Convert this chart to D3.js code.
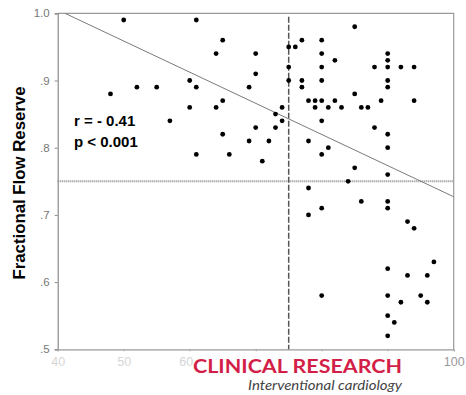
<!DOCTYPE html>
<html><head><meta charset="utf-8">
<script src="https://cdn.jsdelivr.net/npm/d3@7"></script>
<style>html,body{margin:0;padding:0;background:#fff;}svg{display:block;}</style>
</head><body>
<svg id="c" width="466" height="395"></svg>
<script>
// Percent diameter stenosis (x) vs Fractional Flow Reserve (y)
const stenosis = [48,50,52,55,57,60,60,61,61,61,64,64,65,65,65,66,69,69,70,70,70,71,72,73,73,74,74,
  75,75,75,76,77,77,77,78,78,78,78,79,79,80,80,80,80,80,80,80,80,80,81,81,82,82,83,84,85,85,85,
  86,86,87,88,88,89,90,90,90,90,90,90,90,90,90,90,90,90,90,90,91,92,92,93,93,94,94,94,95,96,96,97];
const ffr = [0.88,0.99,0.89,0.89,0.84,0.90,0.86,0.99,0.89,0.79,0.94,0.86,0.96,0.87,0.82,0.79,0.89,0.81,0.94,0.91,0.83,0.78,0.81,0.85,0.83,0.86,0.84,
  0.95,0.92,0.90,0.95,0.96,0.90,0.89,0.87,0.81,0.74,0.70,0.87,0.86,0.96,0.94,0.92,0.90,0.87,0.84,0.79,0.71,0.58,0.86,0.80,0.93,0.87,0.86,0.75,0.98,0.88,0.77,
  0.86,0.72,0.86,0.92,0.83,0.87,0.94,0.93,0.92,0.90,0.89,0.82,0.80,0.76,0.72,0.71,0.62,0.58,0.55,0.52,0.54,0.92,0.57,0.69,0.61,0.92,0.87,0.68,0.58,0.61,0.57,0.63];
const xTicks = [40,50,60,70,80,90,100];
const xTickLabels = ["40","50","60","","","","100"]; // 70–90 hidden behind the logo in the source
const yTicks = [0.5,0.6,0.7,0.8,0.9,1.0];
const yTickLabels = [".5",".6",".7",".8",".9","1.0"];
const stenosisCutoff = 75;
const ffrCutoff = 0.75;
const regIntercept = 1.1905, regSlope = -0.004635;
const statsText = ["r = - 0.41", "p < 0.001"];
const yTitle = "Fractional Flow Reserve";

const svg = d3.select("#c");
const x = d3.scaleLinear().domain([40,100]).range([57.7,453.7]);
const y = d3.scaleLinear().domain([0.5,1.0]).range([349.3,13.3]);

// frame (top and right)
svg.append("path").attr("d", `M${x(40)},${y(1)}H${x(100)}V${y(0.5)}`)
  .attr("fill","none").attr("stroke","#9a9a9a").attr("stroke-width",1.2);

// y axis
const ya = svg.append("g").attr("transform",`translate(${x(40)},0)`)
  .call(d3.axisLeft(y).tickValues(yTicks).tickSize(3).tickPadding(5)
    .tickFormat((d,i)=>yTickLabels[i]));
ya.select(".domain").attr("stroke","#8a8a8a").attr("stroke-width",1.2);
ya.selectAll(".tick line").attr("stroke","#888");
ya.selectAll(".tick text").attr("fill","#777").attr("font-family","Liberation Sans, Arial").attr("font-size",11.5);

// x axis
const xa = svg.append("g").attr("transform",`translate(0,${y(0.5)})`)
  .call(d3.axisBottom(x).tickValues(xTicks).tickSize(2).tickPadding(6)
    .tickFormat((d,i)=>xTickLabels[i]));
xa.select(".domain").attr("stroke","#9a9a9a").attr("stroke-width",1.2);
xa.selectAll(".tick line").attr("stroke","#aaa");
xa.selectAll(".tick text").attr("fill",d=>d===100?"#999":"#d6d6d6")
  .attr("font-family","Liberation Sans, Arial").attr("font-size",12.5);
xa.selectAll(".tick text").filter(d=>d===60).attr("dx",-4);

// cutoff lines
svg.append("line").attr("x1",x(40)).attr("x2",x(100)).attr("y1",y(ffrCutoff)).attr("y2",y(ffrCutoff))
  .attr("stroke","#8a8a8a").attr("stroke-width",2).attr("stroke-dasharray","1,1");
svg.append("line").attr("x1",x(stenosisCutoff)).attr("x2",x(stenosisCutoff)).attr("y1",y(0.995)).attr("y2",y(0.5))
  .attr("stroke","#555").attr("stroke-width",1.5).attr("stroke-dasharray","6,2");

// regression line clipped to plot
const x0 = (1.0 - regIntercept)/regSlope;
svg.append("line").attr("x1",x(x0)).attr("y1",y(regIntercept+regSlope*x0))
  .attr("x2",x(100)).attr("y2",y(regIntercept+regSlope*100))
  .attr("stroke","#7a7a7a").attr("stroke-width",1);

// points
svg.append("g").selectAll("circle").data(stenosis.map((s,i)=>[s,ffr[i]])).join("circle")
  .attr("cx",d=>x(d[0])).attr("cy",d=>y(d[1])).attr("r",2.4).attr("fill","#000");

// stats
svg.append("text").attr("x",74).attr("y",126).text(statsText[0])
  .attr("font-family","Liberation Sans, Arial").attr("font-weight","bold").attr("font-size",15).attr("fill","#000");
svg.append("text").attr("x",74).attr("y",147).text(statsText[1])
  .attr("font-family","Liberation Sans, Arial").attr("font-weight","bold").attr("font-size",15).attr("fill","#000");

// y title
svg.append("text").attr("transform","translate(25,183) rotate(-90)").attr("text-anchor","middle")
  .text(yTitle).attr("font-family","Liberation Sans, Arial").attr("font-weight","bold").attr("font-size",16.8).attr("fill","#000");

// watermark logo
svg.append("text").attr("x",193).attr("y",373).text("CLINICAL RESEARCH")
  .attr("font-family","Lato, Open Sans, sans-serif").attr("font-weight","bold").attr("font-size",19.5)
  .attr("fill","#d31f48").attr("textLength",209).attr("lengthAdjust","spacingAndGlyphs");
svg.append("text").attr("x",248).attr("y",390).text("Interventional cardiology")
  .attr("font-family","Lato, Open Sans, sans-serif").attr("font-style","italic").attr("font-size",12.5)
  .attr("fill","#444").attr("textLength",154).attr("lengthAdjust","spacingAndGlyphs");
</script>
</body></html>
